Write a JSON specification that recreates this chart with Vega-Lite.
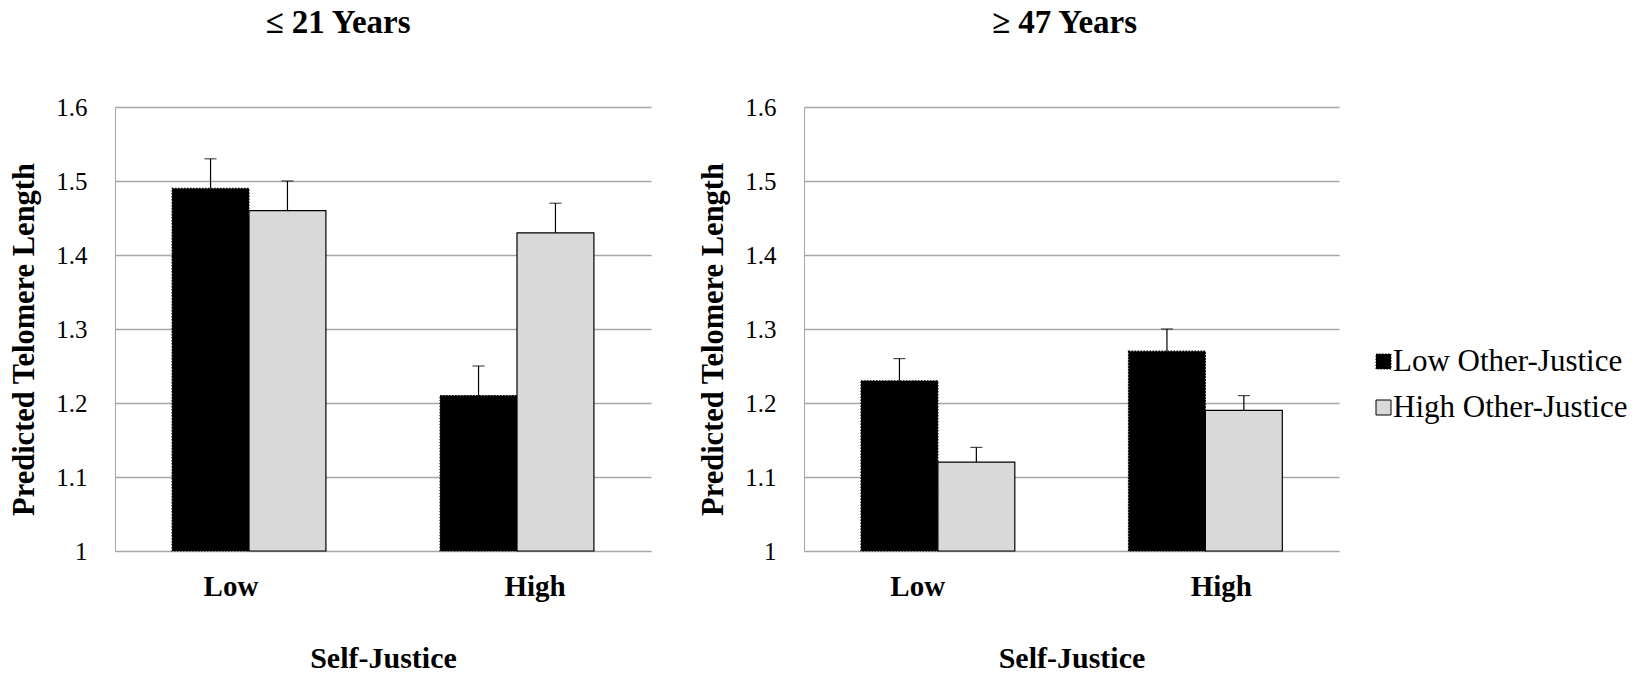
{
  "$schema": "https://vega.github.io/schema/vega-lite/v6.json",
  "background": "white",
  "padding": {"left": 9, "top": 7, "right": 5, "bottom": 5},
  "datasets": {
    "bars": [
      {"age": "≤ 21 Years", "self": "Low", "other": "Low Other-Justice", "value": 1.49, "err": 1.53},
      {"age": "≤ 21 Years", "self": "Low", "other": "High Other-Justice", "value": 1.46, "err": 1.50},
      {"age": "≤ 21 Years", "self": "High", "other": "Low Other-Justice", "value": 1.21, "err": 1.25},
      {"age": "≤ 21 Years", "self": "High", "other": "High Other-Justice", "value": 1.43, "err": 1.47},
      {"age": "≥ 47 Years", "self": "Low", "other": "Low Other-Justice", "value": 1.23, "err": 1.26},
      {"age": "≥ 47 Years", "self": "Low", "other": "High Other-Justice", "value": 1.12, "err": 1.14},
      {"age": "≥ 47 Years", "self": "High", "other": "Low Other-Justice", "value": 1.27, "err": 1.30},
      {"age": "≥ 47 Years", "self": "High", "other": "High Other-Justice", "value": 1.19, "err": 1.21}
    ]
  },
  "config": {
    "font": "Liberation Serif",
    "view": {"stroke": null},
    "concat": {"spacing": 47},
    "axis": {"labelColor": "black", "titleColor": "black", "labelFont": "Liberation Serif", "titleFont": "Liberation Serif"},
    "title": {"font": "Liberation Serif", "color": "black"}
  },
  "hconcat": [
    {
      "width": 536,
      "height": 444,
      "title": {"text": "≤ 21 Years", "fontSize": 33, "fontWeight": "bold", "dx": -45, "offset": 55},
      "data": {"name": "bars"},
      "transform": [{"filter": "datum.age === '≤ 21 Years'"}],
      "encoding": {
        "x": {"field": "self", "type": "nominal", "sort": ["Low", "High"], "title": "Self-Justice",
              "scale": {"paddingInner": 0.426, "paddingOuter": 0.213},
              "axis": {"labelAngle": 0, "labelFontSize": 29, "labelFontWeight": "bold", "labelOffset": {"expr": "datum.value === 'Low' ? -18 : 18"}, "titleFontSize": 30, "titleFontWeight": "bold", "ticks": false, "domain": false, "labelPadding": 21, "titlePadding": 42}},
        "xOffset": {"field": "other", "type": "nominal", "sort": ["Low Other-Justice", "High Other-Justice"]}
      },
      "layer": [
        {
          "mark": {"type": "bar", "stroke": "black", "strokeWidth": 1.2},
          "encoding": {
            "y": {"field": "value", "type": "quantitative", "title": "Predicted Telomere Length",
                  "scale": {"domain": [1, 1.6], "zero": false, "nice": false},
                  "axis": {"values": [1, 1.1, 1.2, 1.3, 1.4, 1.5, 1.6], "format": ".2~f", "labelFontSize": 25, "titleFontSize": 30.5, "titleFontWeight": "bold", "titleY": 232, "ticks": false, "domainColor": "#a6a6a6", "gridColor": "#a6a6a6", "gridWidth": 1.5, "labelPadding": 28, "titlePadding": 16}},
            "y2": {"datum": 1},
            "color": {"field": "other", "type": "nominal", "sort": ["Low Other-Justice", "High Other-Justice"], "title": null,
                      "scale": {"domain": ["Low Other-Justice", "High Other-Justice"], "range": ["black", "#d9d9d9"]},
                      "legend": {"orient": "none", "legendX": 1253, "legendY": 239, "labelFontSize": 31, "labelLimit": 0, "labelColor": "black", "symbolType": "square", "symbolSize": 225, "symbolStrokeColor": "black", "symbolStrokeWidth": 1, "rowPadding": 14, "labelOffset": -6, "padding": 0}},
            "strokeDash": {"field": "other", "type": "nominal", "sort": ["Low Other-Justice", "High Other-Justice"], "title": null,
                           "scale": {"domain": ["Low Other-Justice", "High Other-Justice"], "range": [[1.5, 1.5], [1, 0]]}, "legend": null}
          }
        },
        {
          "mark": {"type": "rule", "color": "black", "strokeWidth": 1.2},
          "encoding": {"y": {"field": "value", "type": "quantitative"}, "y2": {"field": "err"}}
        },
        {
          "mark": {"type": "tick", "color": "black", "orient": "horizontal", "size": 12, "thickness": 1.2},
          "encoding": {"y": {"field": "err", "type": "quantitative"}}
        }
      ]
    },
    {
      "width": 535,
      "height": 444,
      "title": {"text": "≥ 47 Years", "fontSize": 33, "fontWeight": "bold", "dx": -7, "offset": 55},
      "data": {"name": "bars"},
      "transform": [{"filter": "datum.age === '≥ 47 Years'"}],
      "encoding": {
        "x": {"field": "self", "type": "nominal", "sort": ["Low", "High"], "title": "Self-Justice",
              "scale": {"paddingInner": 0.426, "paddingOuter": 0.213},
              "axis": {"labelAngle": 0, "labelFontSize": 29, "labelFontWeight": "bold", "labelOffset": {"expr": "datum.value === 'Low' ? -20 : 16"}, "titleFontSize": 30, "titleFontWeight": "bold", "ticks": false, "domain": false, "labelPadding": 21, "titlePadding": 42}},
        "xOffset": {"field": "other", "type": "nominal", "sort": ["Low Other-Justice", "High Other-Justice"]}
      },
      "layer": [
        {
          "mark": {"type": "bar", "stroke": "black", "strokeWidth": 1.2},
          "encoding": {
            "y": {"field": "value", "type": "quantitative", "title": "Predicted Telomere Length",
                  "scale": {"domain": [1, 1.6], "zero": false, "nice": false},
                  "axis": {"values": [1, 1.1, 1.2, 1.3, 1.4, 1.5, 1.6], "format": ".2~f", "labelFontSize": 25, "titleFontSize": 30.5, "titleFontWeight": "bold", "titleY": 232, "ticks": false, "domainColor": "#a6a6a6", "gridColor": "#a6a6a6", "gridWidth": 1.5, "labelPadding": 28, "titlePadding": 16}},
            "y2": {"datum": 1},
            "color": {"field": "other", "type": "nominal", "sort": ["Low Other-Justice", "High Other-Justice"], "title": null,
                      "scale": {"domain": ["Low Other-Justice", "High Other-Justice"], "range": ["black", "#d9d9d9"]}},
            "strokeDash": {"field": "other", "type": "nominal", "sort": ["Low Other-Justice", "High Other-Justice"], "title": null,
                           "scale": {"domain": ["Low Other-Justice", "High Other-Justice"], "range": [[1.5, 1.5], [1, 0]]}, "legend": null}
          }
        },
        {
          "mark": {"type": "rule", "color": "black", "strokeWidth": 1.2},
          "encoding": {"y": {"field": "value", "type": "quantitative"}, "y2": {"field": "err"}}
        },
        {
          "mark": {"type": "tick", "color": "black", "orient": "horizontal", "size": 12, "thickness": 1.2},
          "encoding": {"y": {"field": "err", "type": "quantitative"}}
        }
      ]
    }
  ]
}
